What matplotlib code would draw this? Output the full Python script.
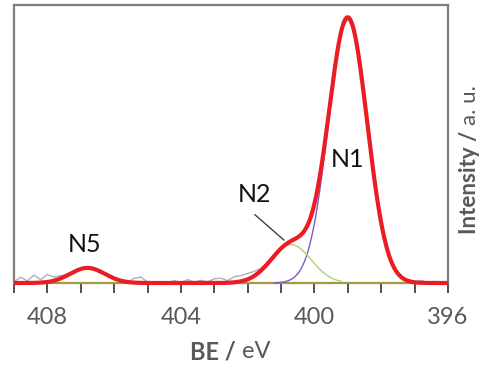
import numpy as np
import matplotlib.pyplot as plt

# N 1s spectrum: measured counts on a 0.2 eV grid (N1 peak height ~100)
be_raw = np.arange(409.0, 395.99, -0.2)
counts = [
    0.5, 2.2, 0.8, 3.0, 1.2, 3.2, 2.2, 2.8, 3.0, 4.4,
    5.0, 5.9, 5.1, 4.0, 2.6, 1.8, 0.6, 0.3, 1.8, 2.2,
    0.4, 0.2, 0.3, 0.1, 0.9, 0.2, 1.3, 0.3, 1.0, 0.4,
    1.6, 1.8, 0.9, 2.4, 2.8, 3.6, 4.4, 5.6, 7.4, 10.4,
    13.5, 15.6, 16.8, 18.0, 22.5, 30.2, 43.0, 61.8, 79.6, 95.3,
    99.6, 94.8, 78.2, 59.1, 38.2, 23.0, 11.5, 5.8, 2.0, 1.2,
    0.5, 0.9, 0.2, 0.6, 0.1, 0.3,
]

# fitted gaussian components and the energy span each one is drawn over
peak_names = ["N1", "N2", "N5"]
peak_centers = [399.0, 400.7, 406.8]
peak_heights = [100.0, 14.5, 5.7]
peak_sigmas = [0.58, 0.60, 0.52]
peak_spans = [(401.2, 396.0), (402.8, 399.2), (409.0, 405.6)]
peak_colors = ["#7b5cc4", "#a9d46f", "#70ad47"]

ticks = [408, 404, 400, 396]

be = np.linspace(409, 396, 1301)
comps = [h * np.exp(-(be - c) ** 2 / (2 * s ** 2))
         for c, h, s in zip(peak_centers, peak_heights, peak_sigmas)]
envelope = np.sum(comps, axis=0)

plt.rcParams['font.family'] = ['Lato', 'DejaVu Sans']
W, H = 491, 372

fig = plt.figure(figsize=(W / 100, H / 100), dpi=100)
ax = fig.add_axes([14 / W, 89 / H, 434 / W, 278 / H])

ax.plot(be, np.zeros_like(be), color="#a39a3c", lw=1.6, clip_on=False, zorder=2)
ax.plot(be_raw, counts, color="#b0b0b0", lw=1.0, zorder=1)
for comp, (hi, lo), col in zip(comps, peak_spans, peak_colors):
    m = (be <= hi) & (be >= lo)
    ax.plot(be[m], comp[m], color=col, lw=1.0, clip_on=False, zorder=3)
ax.plot(be, envelope, color="#ec1c24", lw=3.0, clip_on=False, zorder=4,
        solid_capstyle='butt')

ax.set_xlim(409, 396)
ax.set_ylim(0, 104.9)

ax.set_xticks(np.arange(409, 395.5, -1), minor=True)
ax.set_xticks(ticks)
ax.set_xticklabels([str(t) for t in ticks])
ax.tick_params(axis='x', which='both', direction='out', length=7, width=1.2,
               color="#333333", labelsize=17, labelcolor="#595959", pad=10)
ax.set_yticks([])

for side in ['left', 'top', 'right']:
    ax.spines[side].set_color("#7f7f7f")
    ax.spines[side].set_linewidth(1.6)
ax.spines['bottom'].set_color("#a39a3c")
ax.spines['bottom'].set_linewidth(1.2)

# axis titles: bold quantity, regular unit
grey = "#595959"
fig.canvas.draw()
r = fig.canvas.get_renderer()

t1 = fig.text(190 / W, 1 - 352 / H, "BE /", ha='left', va='center',
              fontsize=17, color=grey, fontweight='bold')
bb = t1.get_window_extent(r)
fig.text((bb.x1 + 6) / W, 1 - 352 / H, "eV", ha='left', va='center',
         fontsize=17, color=grey)

t2 = fig.text(470 / W, 1 - 234 / H, "Intensity /", rotation=90, ha='center',
              va='bottom', fontsize=16, color=grey, fontweight='bold')
bb = t2.get_window_extent(r)
fig.text(470 / W, (bb.y1 + 6) / H, "a. u.", rotation=90, ha='center',
         va='bottom', fontsize=16, color=grey)

# peak labels
ax.text(399.0, 46.5, "N1", ha='center', va='center', fontsize=18, color="#111111")
ax.text(401.8, 33.5, "N2", ha='center', va='center', fontsize=18, color="#111111")
ax.text(406.9, 14.5, "N5", ha='center', va='center', fontsize=18, color="#111111")
ax.annotate("", xy=(400.85, 15.5), xytext=(401.85, 26.5),
            arrowprops=dict(arrowstyle='-', color="#404040", lw=1.0))

fig.savefig("out.png", dpi=100)
